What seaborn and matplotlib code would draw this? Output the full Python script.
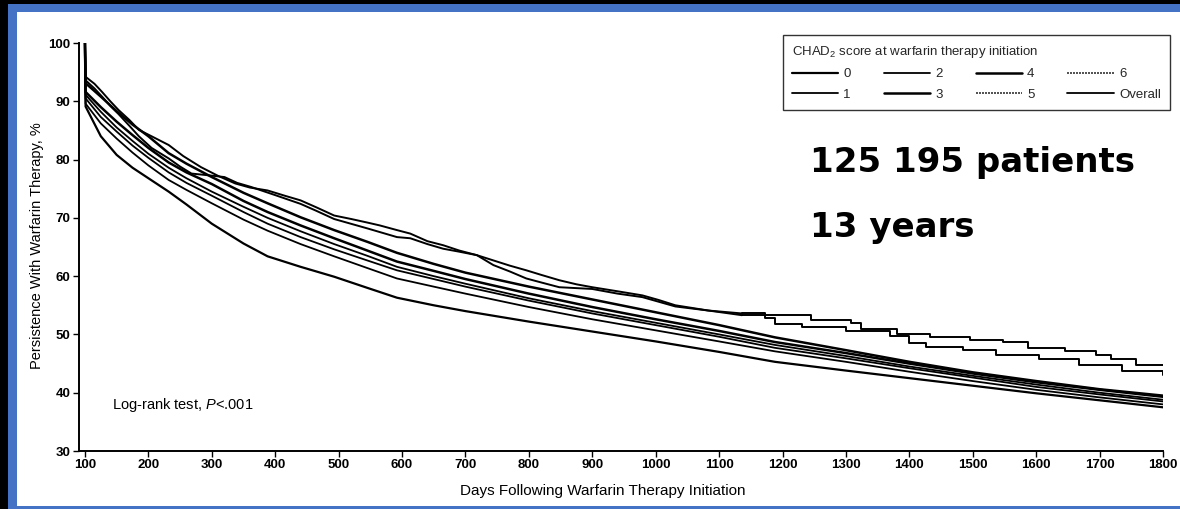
import matplotlib
matplotlib.use("Agg")
import matplotlib.pyplot as plt
from matplotlib import font_manager as fm
from matplotlib.patches import Rectangle
from matplotlib.lines import Line2D
import seaborn as sns
import pandas as pd

# ---------------- data ----------------
days_smooth = [100, 101, 125, 150, 175, 200, 232, 260, 300, 350, 388, 440, 493, 545,
               592, 650, 700, 800, 900, 1000, 1100, 1188, 1300, 1400, 1500, 1600, 1700, 1800]

score0 = [100, 89.1, 84.0, 80.8, 78.6, 76.8, 74.5, 72.3, 69.0, 65.6, 63.4, 61.6, 59.9, 58.0,
          56.3, 55.0, 54.0, 52.2, 50.5, 48.8, 47.0, 45.3, 43.8, 42.5, 41.2, 39.9, 38.7, 37.5]
score1 = [100, 89.6, 86.2, 83.6, 81.2, 79.0, 76.5, 74.8, 72.5, 69.7, 67.8, 65.5, 63.4, 61.4,
          59.6, 58.2, 57.0, 54.7, 52.6, 50.7, 48.8, 47.1, 45.3, 43.6, 42.0, 40.5, 39.2, 38.0]
score2 = [100, 90.5, 87.3, 84.8, 82.4, 80.3, 77.8, 76.0, 73.8, 71.0, 69.0, 66.7, 64.6, 62.7,
          61.0, 59.5, 58.2, 55.8, 53.6, 51.6, 49.6, 47.7, 45.9, 44.2, 42.6, 41.0, 39.7, 38.5]
overall = [100, 91.1, 88.2, 85.5, 83.2, 81.0, 78.6, 76.8, 74.5, 71.9, 70.0, 67.7, 65.5, 63.5,
           61.6, 60.0, 58.7, 56.2, 54.0, 52.0, 50.0, 48.2, 46.3, 44.5, 42.9, 41.4, 40.0, 38.8]
score3 = [100, 91.6, 89.0, 86.5, 84.2, 82.0, 79.5, 77.8, 75.8, 72.9, 71.0, 68.7, 66.5, 64.4,
          62.5, 60.9, 59.5, 57.0, 54.7, 52.6, 50.6, 48.7, 46.8, 45.0, 43.3, 41.8, 40.5, 39.3]
score4 = [100, 93.1, 90.8, 88.3, 86.0, 84.0, 81.1, 79.3, 77.0, 74.3, 72.5, 70.1, 67.9, 65.9,
          64.0, 62.1, 60.6, 58.2, 56.0, 53.8, 51.6, 49.5, 47.3, 45.3, 43.5, 42.0, 40.6, 39.5]

days6 = [100, 101, 115, 127, 140, 153, 170, 185, 205, 232, 255, 283, 310, 337, 360, 388, 415,
         440, 465, 493, 520, 545, 565, 592, 613, 640, 665, 690, 718, 744, 770, 796, 820, 848,
         875, 900, 940, 979, 1005, 1031, 1060, 1083, 1136, 1172, 1245, 1308, 1324, 1381, 1433,
         1496, 1548, 1587, 1645, 1694, 1718, 1757, 1800]
score6 = [100, 94.2, 93.0, 91.6, 90.0, 88.5, 86.8, 85.1, 84.0, 82.5, 80.6, 78.7, 77.2, 75.9,
          75.2, 74.7, 73.8, 73.0, 71.8, 70.4, 69.8, 69.2, 68.7, 67.9, 67.3, 66.0, 65.3, 64.4,
          63.6, 62.7, 61.8, 61.0, 60.2, 59.3, 58.6, 58.1, 57.4, 56.7, 55.9, 55.0, 54.5, 54.1,
          53.6, 53.3, 52.4, 51.9, 51.0, 50.1, 49.5, 49.0, 48.7, 47.7, 47.1, 46.4, 45.8, 44.8, 44.7]

days5 = [100, 101, 115, 127, 140, 153, 170, 185, 205, 232, 250, 268, 295, 320, 340, 362, 400,
         440, 465, 493, 545, 592, 613, 640, 665, 690, 718, 744, 770, 796, 820, 848, 900, 940,
         979, 1031, 1083, 1136, 1172, 1188, 1231, 1300, 1370, 1400, 1427, 1485, 1537, 1605,
         1668, 1736, 1800]
score5 = [100, 93.6, 92.2, 90.8, 89.2, 87.8, 85.8, 84.0, 82.0, 80.2, 78.8, 77.6, 77.3, 77.0,
          76.0, 75.3, 73.9, 72.4, 71.2, 69.8, 68.2, 66.7, 66.5, 65.5, 64.7, 64.2, 63.6, 61.9,
          60.8, 59.6, 58.9, 58.1, 57.8, 57.0, 56.4, 54.8, 54.1, 53.3, 52.9, 51.8, 51.3, 50.6,
          49.8, 48.5, 47.9, 47.3, 46.4, 45.8, 44.7, 43.8, 43.0]

legend_labels = ["0", "1", "2", "3", "4", "5", "6", "Overall"]
x_ticks = list(range(100, 1801, 100))
y_ticks = list(range(30, 101, 10))
step_from_day = 1136   # the small-sample curves show visible stair steps from here on

# ---------------- style ----------------
sns.set_theme(style="ticks")
names = {f.name for f in fm.fontManager.ttflist}
cond = "Liberation Sans Narrow" if "Liberation Sans Narrow" in names else "Liberation Sans"
plt.rcParams["font.family"] = [cond, "DejaVu Sans"]
plt.rcParams["mathtext.fontset"] = "custom"
plt.rcParams["mathtext.rm"] = cond
plt.rcParams["mathtext.it"] = cond + ":italic"

W, H = 1180, 509
fig = plt.figure(figsize=(W / 100, H / 100), dpi=100)
fig.patch.set_facecolor("black")
fig.patches.append(Rectangle((8 / W, 0), 1, (H - 4) / H, transform=fig.transFigure,
                             facecolor="#4472C4", edgecolor="none", zorder=-10))
fig.patches.append(Rectangle((17 / W, 3 / H), 1, (H - 15) / H, transform=fig.transFigure,
                             facecolor="white", edgecolor="none", zorder=-9))

def fx(x):
    return x / W

def fy(y):
    return 1 - y / H

ax = fig.add_axes([fx(79), fy(451), (1163 - 79) / W, (451 - 43) / H])
ax.set_facecolor("none")

series = [
    ("0", days_smooth, score0, 1.6, False),
    ("1", days_smooth, score1, 1.3, False),
    ("2", days_smooth, score2, 1.3, False),
    ("3", days_smooth, score3, 1.8, False),
    ("4", days_smooth, score4, 1.8, False),
    ("5", days5, score5, 1.4, True),
    ("6", days6, score6, 1.4, True),
    ("Overall", days_smooth, overall, 1.3, False),
]

handles = []
for name, d, v, lw, jagged in series:
    df = pd.DataFrame({"day": d, "val": v})
    if jagged:
        early = df[df["day"] <= step_from_day]
        late = df[df["day"] >= step_from_day]
        sns.lineplot(data=early, x="day", y="val", ax=ax, color="black", linewidth=lw,
                     estimator=None, sort=False)
        sns.lineplot(data=late, x="day", y="val", ax=ax, color="black", linewidth=lw,
                     estimator=None, sort=False, drawstyle="steps-post")
        h = Line2D([], [], color="#333333", linewidth=1.2, linestyle=(0, (1.2, 0.6)))
    else:
        sns.lineplot(data=df, x="day", y="val", ax=ax, color="black", linewidth=lw,
                     estimator=None, sort=False)
        h = Line2D([], [], color="black", linewidth=lw)
    handles.append(h)

ax.set_xlim(90.6, 1800)
ax.set_ylim(30, 100)
ax.set_xticks(x_ticks)
ax.set_yticks(y_ticks)
ax.set_xlabel("")
ax.set_ylabel("")
sns.despine(ax=ax)
for s in ("left", "bottom"):
    ax.spines[s].set_linewidth(1.4)
    ax.spines[s].set_color("black")
ax.tick_params(axis="both", direction="out", length=4, width=1, colors="black",
               labelsize=9.5, pad=2)
for lab in ax.get_xticklabels() + ax.get_yticklabels():
    lab.set_fontweight("bold")

leg = ax.legend(handles, legend_labels, ncol=4, loc="upper right",
                bbox_to_anchor=(fx(1170), fy(35)), bbox_transform=fig.transFigure,
                title="CHAD$_2$ score at warfarin therapy initiation", alignment="left",
                fontsize=9.5, title_fontsize=9.5, frameon=True, fancybox=False,
                edgecolor="black", handlelength=3.5, handletextpad=0.4, columnspacing=2.5,
                labelspacing=0.6, borderpad=0.7, borderaxespad=0)
leg.get_frame().set_linewidth(1.0)

fig.text(fx(37), fy(246), "Persistence With Warfarin Therapy, %", rotation=90,
         ha="center", va="center", fontsize=10.5, color="black")
fig.text(fx(603), fy(491), "Days Following Warfarin Therapy Initiation",
         ha="center", va="center", fontsize=11, color="black")
fig.text(fx(112), fy(405), "Log-rank test, $P$<.001", ha="left", va="center",
         fontsize=10.5, color="black")

fig.text(fx(810), fy(172), "125 195 patients", ha="left", va="baseline",
         fontsize=24.5, fontweight="bold", family=["DejaVu Sans"], color="black")
fig.text(fx(810), fy(237), "13 years", ha="left", va="baseline",
         fontsize=24.5, fontweight="bold", family=["DejaVu Sans"], color="black")

fig.savefig("out.png", dpi=100, facecolor=fig.get_facecolor())
